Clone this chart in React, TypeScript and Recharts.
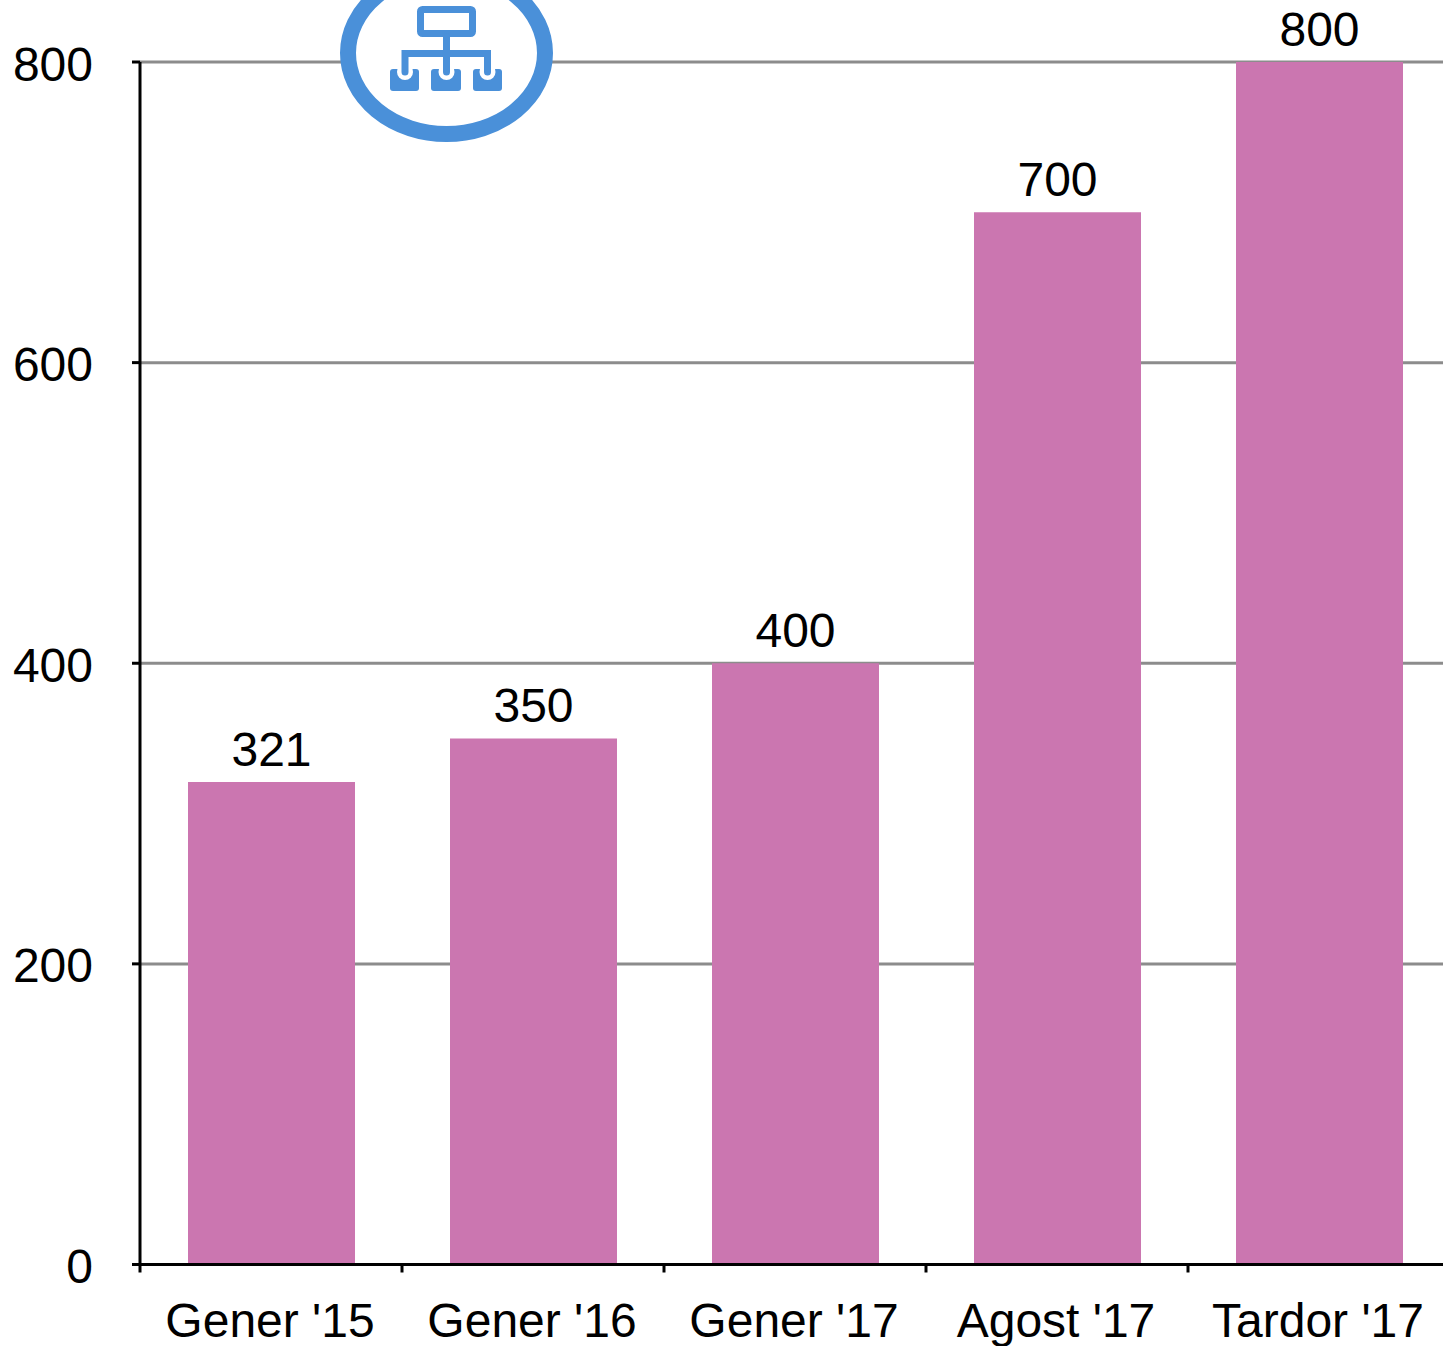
import { BarChart, Bar, XAxis, YAxis, CartesianGrid, LabelList } from 'recharts'

const categories = ["Gener '15", "Gener '16", "Gener '17", "Agost '17", "Tardor '17"]
const values = [321, 350, 400, 700, 800]
const yTicks = [0, 200, 400, 600, 800]

const data = categories.map((name, i) => ({ name, value: values[i] }))

const FONT = '"Liberation Sans", Arial, sans-serif'
const BLUE = '#4a90d9'
const BAND = 262

// ticks sit on the category boundaries, labels in the middle
function CategoryTick({ x, y, payload, index }: any) {
  const top = y - 8
  return (
    <g>
      <line x1={x - BAND / 2} x2={x - BAND / 2} y1={top} y2={top + 8} stroke="#000" strokeWidth={3} />
      {index === categories.length - 1 && (
        <line x1={x + BAND / 2} x2={x + BAND / 2} y1={top} y2={top + 8} stroke="#000" strokeWidth={3} />
      )}
      <text x={x - 1} y={y + 64} textAnchor="middle" fill="#000" fontSize={48} fontFamily={FONT}>
        {payload.value}
      </text>
    </g>
  )
}

function OrgIcon() {
  return (
    <svg
      width={1443}
      height={1346}
      style={{ position: 'absolute', left: 0, top: 0, pointerEvents: 'none' }}
    >
      <ellipse cx={446.5} cy={53} rx={98.5} ry={81} fill="#fff" stroke={BLUE} strokeWidth={16} />
      <rect x={420.5} y={9.5} width={52} height={24} rx={2} fill="none" stroke={BLUE} strokeWidth={7} />
      <rect x={390} y={69} width={29} height={22} rx={3} fill={BLUE} />
      <rect x={431} y={69} width={30} height={22} rx={3} fill={BLUE} />
      <rect x={473} y={69} width={29} height={22} rx={3} fill={BLUE} />
      <circle cx={405} cy={72} r={8} fill="#fff" />
      <circle cx={446.5} cy={72} r={8} fill="#fff" />
      <circle cx={487.5} cy={72} r={8} fill="#fff" />
      <path
        d="M446.5 37V72M405 72V53.5H487.5V72"
        fill="none"
        stroke={BLUE}
        strokeWidth={7}
        strokeLinecap="round"
      />
    </svg>
  )
}

export default function App() {
  return (
    <div style={{ position: 'absolute', left: 0, top: 0, width: 1443, height: 1346, overflow: 'hidden', background: '#fff' }}>
      <BarChart
        width={1460}
        height={1346}
        data={data}
        margin={{ top: 62, right: 10, left: 0, bottom: 0 }}
        barCategoryGap={0}
      >
        <CartesianGrid vertical={false} stroke="#8c8c8c" strokeWidth={3} />
        <XAxis
          dataKey="name"
          height={81.5}
          interval={0}
          axisLine={{ stroke: '#000', strokeWidth: 3 }}
          tickLine={false}
          tickSize={8}
          tick={<CategoryTick />}
          tickMargin={0}
        />
        <YAxis
          width={140}
          domain={[0, 800]}
          ticks={yTicks}
          axisLine={{ stroke: '#000', strokeWidth: 3 }}
          tickLine={{ stroke: '#000', strokeWidth: 3 }}
          tickSize={8}
          tick={{ fill: '#000', fontSize: 48, fontFamily: FONT, dy: 1.5 }}
          tickMargin={39}
        />
        <Bar dataKey="value" fill="#cb76b0" barSize={167} isAnimationActive={false}>
          <LabelList dataKey="value" position="top" offset={16} fill="#000" fontSize={48} fontFamily={FONT} />
        </Bar>
      </BarChart>
      <OrgIcon />
    </div>
  )
}
